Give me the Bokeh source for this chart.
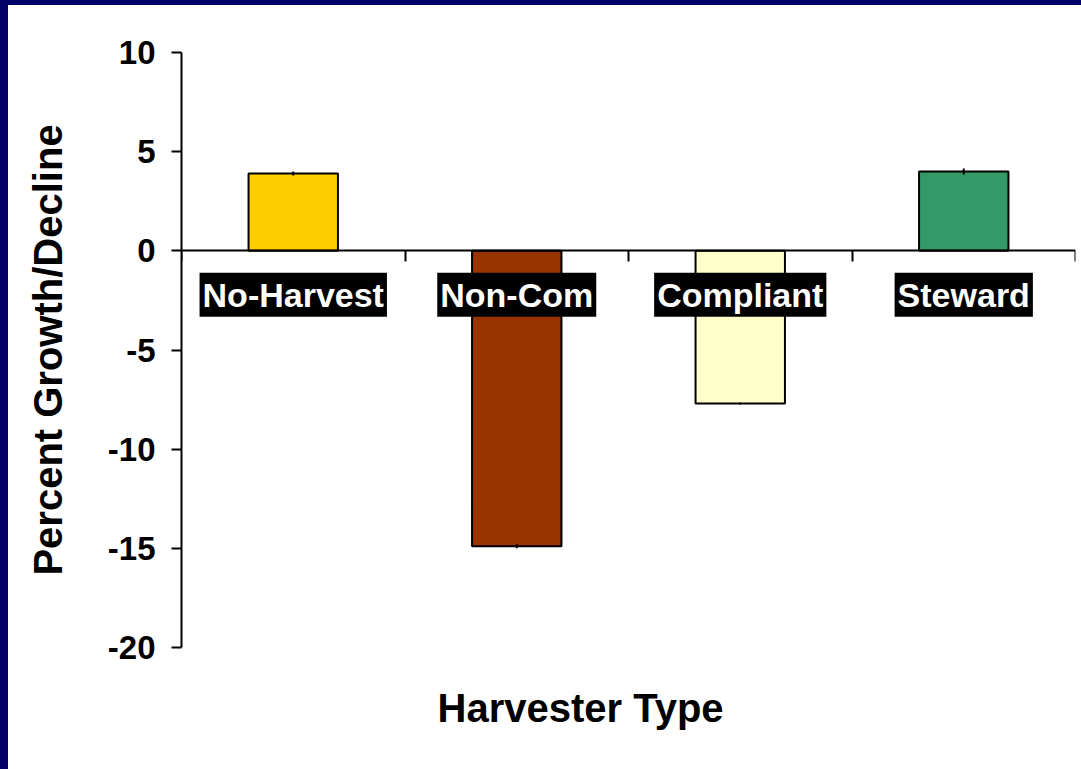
from bokeh.plotting import figure
from bokeh.models import Range1d, FixedTicker, LinearAxis, Label, Div, Title
from bokeh.layouts import column
from bokeh.embed import file_html
from bokeh.resources import INLINE

# ---- data ----
categories = ["No-Harvest", "Non-Com", "Compliant", "Steward"]
values = [3.9, -14.9, -7.7, 4.0]
errors = [0.1, 0.1, 0.05, 0.15]
colors = ["#FFCC00", "#993300", "#FFFFCC", "#339966"]
y_ticks = [-20, -15, -10, -5, 0, 5, 10]
y_title = "Percent Growth/Decline"
x_title = "Harvester Type"

FONT = "Liberation Sans"

positions = [i + 0.5 for i in range(len(categories))]

p = figure(width=1078, height=768,
           x_range=Range1d(0, len(categories)), y_range=Range1d(-20, 10),
           output_backend="svg", toolbar_location=None,
           x_axis_location=None, y_axis_location=None,
           min_border_left=181, min_border_top=52,
           min_border_right=3, min_border_bottom=121)
p.outline_line_color = None
p.background_fill_color = "white"
p.border_fill_color = "white"
p.xgrid.visible = False
p.ygrid.visible = False

# y axis
yaxis = LinearAxis(ticker=FixedTicker(ticks=y_ticks))
yaxis.major_label_overrides = {t: str(t) for t in y_ticks}
yaxis.axis_label = y_title
yaxis.axis_label_text_font = FONT
yaxis.axis_label_text_font_style = "bold"
yaxis.axis_label_text_font_size = "40px"
yaxis.axis_label_text_color = "black"
yaxis.axis_label_standoff = 35
yaxis.major_label_text_font = FONT
yaxis.major_label_text_font_style = "bold"
yaxis.major_label_text_font_size = "33px"
yaxis.major_label_text_color = "black"
yaxis.major_label_standoff = 16
yaxis.major_tick_out = 10
yaxis.major_tick_in = 0
yaxis.minor_tick_out = 0
yaxis.minor_tick_in = 0
yaxis.axis_line_width = 2
yaxis.major_tick_line_width = 2
yaxis.axis_line_color = "black"
yaxis.major_tick_line_color = "black"
p.add_layout(yaxis, "left")

# zero line axis with boundary ticks
zaxis = LinearAxis(ticker=FixedTicker(ticks=list(range(len(categories) + 1))), fixed_location=0)
zaxis.axis_line_width = 2
zaxis.axis_line_color = "black"
zaxis.major_tick_out = 11
zaxis.major_tick_in = 0
zaxis.major_tick_line_width = 2
zaxis.major_tick_line_color = "black"
zaxis.minor_tick_out = 0
zaxis.minor_tick_in = 0
zaxis.major_label_text_font_size = "0px"
zaxis.major_label_text_alpha = 0
p.add_layout(zaxis, "below")

# x axis title below the frame
p.add_layout(Title(text=x_title, align="left", offset=256, standoff=72,
                   text_font=FONT, text_font_style="bold",
                   text_font_size="40px", text_color="black"), "below")

# bars
p.vbar(x=positions, top=values, bottom=0, width=0.4,
       fill_color=colors, line_color="black", line_width=2)

# tiny error bars
p.segment(x0=positions, x1=positions,
          y0=[v - e for v, e in zip(values, errors)],
          y1=[v + e for v, e in zip(values, errors)],
          line_color="black", line_width=2)

# category labels (white on black) along the zero line
for xc, name in zip(positions, categories):
    p.add_layout(Label(x=xc, y=0, y_offset=-44, text=name,
                       text_align="center", text_baseline="middle",
                       text_font=FONT, text_font_style="bold",
                       text_font_size="34px", text_color="white",
                       background_fill_color="black", padding=3))

band = Div(text='<div style="position:fixed;left:0;top:0;width:100vw;height:5px;background:#000066;"></div>'
                '<div style="position:fixed;left:0;top:0;width:8px;height:100vh;background:#000066;"></div>',
           width=1, height=1)

layout = column(p, band)

open("out.html", "w").write(file_html(layout, INLINE))
